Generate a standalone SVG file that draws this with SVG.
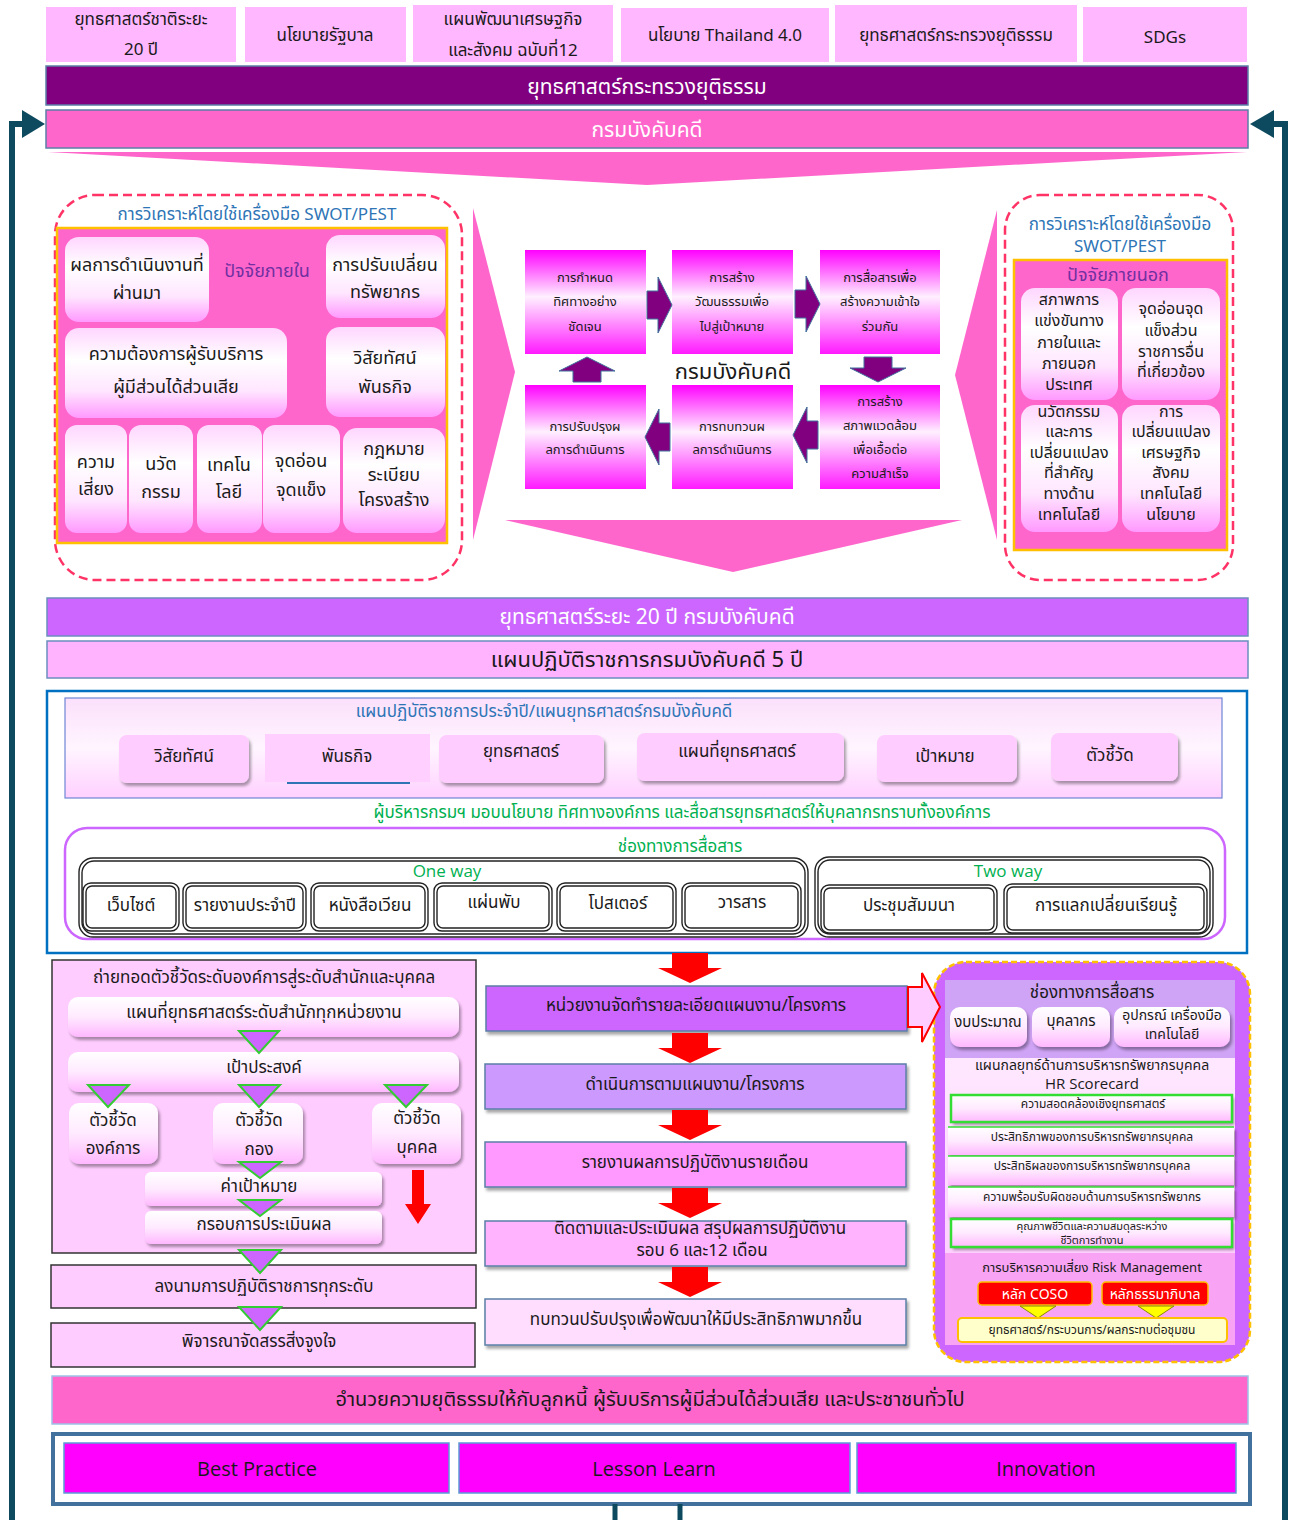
<svg xmlns="http://www.w3.org/2000/svg" width="1296" height="1520" viewBox="0 0 1296 1520">
<defs>
<style>
text{font-family:Tahoma,"Noto Sans Thai","Noto Sans","DejaVu Sans",sans-serif;fill:#1a1a1a;text-anchor:middle;dominant-baseline:central}
.top{fill:#ffb7ff}
.wt{fill:#ffffff}
.blue{fill:#2e75b6}
.grn{fill:#00b050}
.pur{fill:#7030a0}
.soft{fill:url(#gSoft)}
.mag{fill:url(#gMag)}
.dash{fill:#fff;stroke:#ff3366;stroke-width:2.5;stroke-dasharray:9 5}
.panel{fill:#ff66cc;stroke:#ffc000;stroke-width:2.5}
.parr{fill:#800080;stroke:#41719c;stroke-width:1}
.btn{fill:#ffccff;filter:url(#sh)}
.dbl{fill:#fff;stroke:#222;stroke-width:1.4}
.dbi{fill:none;stroke:#222;stroke-width:1.4}
.pb{fill:url(#gPB);filter:url(#sh)}
.tri{fill:#cc66ff;stroke:#33cc33;stroke-width:2}
.rar{fill:#ff0000}
.hr{fill:url(#gPB);filter:url(#sh)}
.gbox{fill:none;stroke:#33dd33;stroke-width:2.5}
.lat{font-family:"Open Sans","Noto Sans",sans-serif}
</style>
<linearGradient id="gSoft" x1="0" y1="0" x2="0" y2="1">
<stop offset="0" stop-color="#ffd6ff"/><stop offset="0.35" stop-color="#ffffff"/><stop offset="0.7" stop-color="#ffe6ff"/><stop offset="1" stop-color="#ff99ff"/>
</linearGradient>
<linearGradient id="gMag" x1="0" y1="0" x2="0" y2="1">
<stop offset="0" stop-color="#ff00ff"/><stop offset="0.45" stop-color="#fff0ff"/><stop offset="1" stop-color="#ff1aff"/>
</linearGradient>
<linearGradient id="gPB" x1="0" y1="0" x2="0" y2="1">
<stop offset="0" stop-color="#ffffff"/><stop offset="0.5" stop-color="#ffeaff"/><stop offset="1" stop-color="#ffb8ff"/>
</linearGradient>
<linearGradient id="gInner" x1="0" y1="0" x2="0" y2="1">
<stop offset="0" stop-color="#fbe0fb"/><stop offset="0.5" stop-color="#fff5ff"/><stop offset="1" stop-color="#ffd0ff"/>
</linearGradient>
<linearGradient id="gHR" x1="0" y1="0" x2="0" y2="1">
<stop offset="0" stop-color="#ffe8ff"/><stop offset="1" stop-color="#ffd0ff"/>
</linearGradient>
<filter id="sh" x="-10%" y="-10%" width="130%" height="140%">
<feDropShadow dx="2" dy="3" stdDeviation="1.8" flood-color="#000" flood-opacity="0.35"/>
</filter>
<path id="parrow" d="M0,-14 H11 V-28 L25,0 L11,28 V14 H0 Z"/>
<path id="rdown" d="M-18,0 H18 V15 H32 L0,30 L-32,15 H-18 Z"/>
</defs>

<rect width="1296" height="1520" fill="#ffffff"/>

<!-- top policy sources -->
<g id="src1"><rect class="top" x="46" y="7" width="190" height="55"/><text x="141" y="20" font-size="17">ยุทธศาสตร์ชาติระยะ</text><text x="141" y="50" font-size="17">20 ปี</text></g>
<g id="src2"><rect class="top" x="245" y="7" width="161" height="55"/><text x="325" y="36" font-size="17">นโยบายรัฐบาล</text></g>
<g id="src3"><rect class="top" x="413" y="5" width="200" height="57"/><text x="513" y="20" font-size="17">แผนพัฒนาเศรษฐกิจ</text><text x="513" y="51" font-size="17">และสังคม ฉบับที่12</text></g>
<g id="src4"><rect class="top" x="621" y="8" width="208" height="54"/><text x="725" y="36" font-size="17">นโยบาย Thailand 4.0</text></g>
<g id="src5"><rect class="top" x="835" y="5" width="242" height="57"/><text x="956" y="36" font-size="17">ยุทธศาสตร์กระทรวงยุติธรรม</text></g>
<g id="src6"><rect class="top" x="1083" y="7" width="164" height="55"/><text x="1165" y="38" font-size="17">SDGs</text></g>

<g id="moj"><rect x="46" y="66" width="1202" height="39" fill="#800080" stroke="#5b7fa6" stroke-width="1.5"/><text class="wt" x="647" y="87" font-size="21">ยุทธศาสตร์กระทรวงยุติธรรม</text></g>
<g id="led"><rect x="46" y="110" width="1202" height="38" fill="#ff66cc" stroke="#5b7fa6" stroke-width="1.5"/><text class="wt" x="647" y="130" font-size="21">กรมบังคับคดี</text></g>
<polygon points="48,152 1247,152 647,185" fill="#ff66cc"/>

<!-- left SWOT -->
<g id="swot-in">
<rect class="dash" x="55" y="195" width="407" height="385" rx="40"/>
<text class="blue" x="257" y="215" font-size="17">การวิเคราะห์โดยใช้เครื่องมือ SWOT/PEST</text>
<rect class="panel" x="57" y="228" width="390" height="315"/>
<text class="pur" x="267" y="271" font-size="18">ปัจจัยภายใน</text>
<rect class="soft" x="65" y="237" width="144" height="85" rx="14"/>
<text x="137" y="265" font-size="18">ผลการดำเนินงานที่</text><text x="137" y="293" font-size="18">ผ่านมา</text>
<rect class="soft" x="326" y="235" width="119" height="83" rx="14"/>
<text x="385" y="265" font-size="18">การปรับเปลี่ยน</text><text x="385" y="292" font-size="18">ทรัพยากร</text>
<rect class="soft" x="65" y="328" width="222" height="90" rx="14"/>
<text x="176" y="354" font-size="18">ความต้องการผู้รับบริการ</text><text x="176" y="387" font-size="18">ผู้มีส่วนได้ส่วนเสีย</text>
<rect class="soft" x="326" y="327" width="119" height="90" rx="14"/>
<text x="385" y="358" font-size="18">วิสัยทัศน์</text><text x="385" y="387" font-size="18">พันธกิจ</text>
<rect class="soft" x="65" y="425" width="62" height="108" rx="12"/>
<text x="96" y="462" font-size="18">ความ</text><text x="96" y="489" font-size="18">เสี่ยง</text>
<rect class="soft" x="129" y="425" width="64" height="108" rx="12"/>
<text x="161" y="464" font-size="18">นวัต</text><text x="161" y="492" font-size="18">กรรม</text>
<rect class="soft" x="197" y="425" width="65" height="108" rx="12"/>
<text x="229" y="465" font-size="18">เทคโน</text><text x="229" y="492" font-size="18">โลยี</text>
<rect class="soft" x="263" y="425" width="77" height="108" rx="12"/>
<text x="301" y="461" font-size="18">จุดอ่อน</text><text x="301" y="490" font-size="18">จุดแข็ง</text>
<rect class="soft" x="343" y="428" width="102" height="105" rx="14"/>
<text x="394" y="449" font-size="18">กฎหมาย</text><text x="394" y="475" font-size="18">ระเบียบ</text><text x="394" y="500" font-size="18">โครงสร้าง</text>
</g>

<!-- center cycle -->
<polygon points="473,208 515,372 473,540" fill="#ff66cc"/>
<polygon points="997,210 955,375 997,540" fill="#ff66cc"/>
<polygon points="505,520 962,520 733,572" fill="#ff66cc"/>
<g id="cyc1"><rect class="mag" x="525" y="250" width="121" height="104"/><text x="585" y="278" font-size="13">การกำหนด</text><text x="585" y="302" font-size="13">ทิศทางอย่าง</text><text x="585" y="327" font-size="13">ชัดเจน</text></g>
<g id="cyc2"><rect class="mag" x="672" y="250" width="121" height="104"/><text x="732" y="278" font-size="13">การสร้าง</text><text x="732" y="302" font-size="13">วัฒนธรรมเพื่อ</text><text x="732" y="327" font-size="13">ไปสู่เป้าหมาย</text></g>
<g id="cyc3"><rect class="mag" x="820" y="250" width="120" height="104"/><text x="880" y="278" font-size="13">การสื่อสารเพื่อ</text><text x="880" y="302" font-size="13">สร้างความเข้าใจ</text><text x="880" y="327" font-size="13">ร่วมกัน</text></g>
<g id="cyc4"><rect class="mag" x="820" y="385" width="120" height="104"/><text x="880" y="402" font-size="13">การสร้าง</text><text x="880" y="426" font-size="13">สภาพแวดล้อม</text><text x="880" y="450" font-size="13">เพื่อเอื้อต่อ</text><text x="880" y="474" font-size="13">ความสำเร็จ</text></g>
<g id="cyc5"><rect class="mag" x="672" y="385" width="121" height="104"/><text x="732" y="427" font-size="13">การทบทวนผ</text><text x="732" y="450" font-size="13">ลการดำเนินการ</text></g>
<g id="cyc6"><rect class="mag" x="525" y="385" width="121" height="104"/><text x="585" y="427" font-size="13">การปรับปรุงผ</text><text x="585" y="450" font-size="13">ลการดำเนินการ</text></g>
<text x="733" y="372" font-size="22">กรมบังคับคดี</text>

<!-- right SWOT -->
<g id="swot-out">
<rect class="dash" x="1005" y="195" width="228" height="385" rx="35"/>
<text class="blue" x="1120" y="225" font-size="17">การวิเคราะห์โดยใช้เครื่องมือ</text>
<text class="blue" x="1120" y="247" font-size="17">SWOT/PEST</text>
<rect class="panel" x="1014" y="260" width="213" height="290"/>
<text class="pur" x="1118" y="275" font-size="18">ปัจจัยภายนอก</text>
<rect class="soft" x="1021" y="288" width="97" height="112" rx="14"/>
<text x="1069" y="300" font-size="16">สภาพการ</text><text x="1069" y="321" font-size="16">แข่งขันทาง</text><text x="1069" y="343" font-size="16">ภายในและ</text><text x="1069" y="364" font-size="16">ภายนอก</text><text x="1069" y="385" font-size="16">ประเทศ</text>
<rect class="soft" x="1122" y="288" width="98" height="112" rx="14"/>
<text x="1171" y="309" font-size="16">จุดอ่อนจุด</text><text x="1171" y="331" font-size="16">แข็งส่วน</text><text x="1171" y="352" font-size="16">ราชการอื่น</text><text x="1171" y="372" font-size="16">ที่เกี่ยวข้อง</text>
<rect class="soft" x="1021" y="405" width="97" height="127" rx="14"/>
<text x="1069" y="412" font-size="16">นวัตกรรม</text><text x="1069" y="432" font-size="16">และการ</text><text x="1069" y="453" font-size="16">เปลี่ยนแปลง</text><text x="1069" y="473" font-size="16">ที่สำคัญ</text><text x="1069" y="494" font-size="16">ทางด้าน</text><text x="1069" y="515" font-size="16">เทคโนโลยี</text>
<rect class="soft" x="1122" y="405" width="98" height="127" rx="14"/>
<text x="1171" y="412" font-size="16">การ</text><text x="1171" y="432" font-size="16">เปลี่ยนแปลง</text><text x="1171" y="453" font-size="16">เศรษฐกิจ</text><text x="1171" y="473" font-size="16">สังคม</text><text x="1171" y="494" font-size="16">เทคโนโลยี</text><text x="1171" y="515" font-size="16">นโยบาย</text>
</g>

<!-- 20 year / 5 year -->
<g id="plan20"><rect x="47" y="598" width="1201" height="38" fill="#cc66ff" stroke="#6c8ebf" stroke-width="1.5"/><text class="wt" x="647" y="617" font-size="21">ยุทธศาสตร์ระยะ 20 ปี กรมบังคับคดี</text></g>
<g id="plan5"><rect x="47" y="641" width="1201" height="37" fill="#ffb3ff" stroke="#6c8ebf" stroke-width="1.5"/><text x="647" y="660" font-size="22">แผนปฏิบัติราชการกรมบังคับคดี 5 ปี</text></g>

<g id="annual">
<rect x="47" y="691" width="1200" height="262" fill="#fff" stroke="#0070c0" stroke-width="2.5"/>
<rect x="65" y="698" width="1157" height="100" fill="url(#gInner)" stroke="#6f86d6" stroke-width="1.2"/>
<text class="blue" x="544" y="712" font-size="17">แผนปฏิบัติราชการประจำปี/แผนยุทธศาสตร์กรมบังคับคดี</text>
<rect class="btn" x="119" y="735" width="130" height="48" rx="8"/><text x="184" y="757" font-size="17">วิสัยทัศน์</text>
<rect x="265" y="734" width="165" height="48" fill="#ffd0ff"/><line x1="287" y1="783" x2="410" y2="783" stroke="#2e75b6" stroke-width="2"/><text x="347" y="757" font-size="17">พันธกิจ</text>
<rect class="btn" x="439" y="735" width="165" height="48" rx="8"/><text x="521" y="752" font-size="17">ยุทธศาสตร์</text>
<rect class="btn" x="637" y="733" width="207" height="48" rx="8"/><text x="737" y="752" font-size="17">แผนที่ยุทธศาสตร์</text>
<rect class="btn" x="877" y="735" width="140" height="47" rx="8"/><text x="945" y="757" font-size="17">เป้าหมาย</text>
<rect class="btn" x="1051" y="733" width="127" height="48" rx="8"/><text x="1110" y="756" font-size="17">ตัวชี้วัด</text>
<text class="grn" x="682" y="813" font-size="17">ผู้บริหารกรมฯ มอบนโยบาย ทิศทางองค์การ และสื่อสารยุทธศาสตร์ให้บุคลากรทราบทั้งองค์การ</text>
<rect x="65" y="828" width="1160" height="111" rx="22" fill="#fff" stroke="#cc66ff" stroke-width="2.5"/>
<text class="grn" x="680" y="847" font-size="17">ช่องทางการสื่อสาร</text>
<rect class="dbl" x="79" y="858" width="729" height="79" rx="14"/><rect class="dbi" x="82" y="861" width="723" height="73" rx="12"/>
<text class="grn lat" x="447" y="870" font-size="17">One way</text>
<rect class="dbl" x="83" y="883" width="96" height="48" rx="8"/><rect class="dbi" x="86" y="886" width="90" height="42" rx="6"/><text x="131" y="906" font-size="17">เว็บไซต์</text>
<rect class="dbl" x="183" y="883" width="123" height="48" rx="8"/><rect class="dbi" x="186" y="886" width="117" height="42" rx="6"/><text x="245" y="906" font-size="17">รายงานประจำปี</text>
<rect class="dbl" x="311" y="883" width="117" height="48" rx="8"/><rect class="dbi" x="314" y="886" width="111" height="42" rx="6"/><text x="370" y="906" font-size="17">หนังสือเวียน</text>
<rect class="dbl" x="434" y="883" width="118" height="48" rx="8"/><rect class="dbi" x="437" y="886" width="112" height="42" rx="6"/><text x="494" y="903" font-size="17">แผ่นพับ</text>
<rect class="dbl" x="557" y="883" width="119" height="48" rx="8"/><rect class="dbi" x="560" y="886" width="113" height="42" rx="6"/><text x="618" y="904" font-size="17">โปสเตอร์</text>
<rect class="dbl" x="682" y="883" width="119" height="48" rx="8"/><rect class="dbi" x="685" y="886" width="113" height="42" rx="6"/><text x="742" y="903" font-size="17">วารสาร</text>
<rect class="dbl" x="815" y="857" width="398" height="80" rx="14"/><rect class="dbi" x="818" y="860" width="392" height="74" rx="12"/>
<text class="grn lat" x="1008" y="870" font-size="17">Two way</text>
<rect class="dbl" x="821" y="885" width="176" height="48" rx="8"/><rect class="dbi" x="824" y="888" width="170" height="42" rx="6"/><text x="909" y="906" font-size="17">ประชุมสัมมนา</text>
<rect class="dbl" x="1004" y="884" width="203" height="49" rx="8"/><rect class="dbi" x="1007" y="887" width="197" height="43" rx="6"/><text x="1106" y="906" font-size="17">การแลกเปลี่ยนเรียนรู้</text>
</g>

<!-- bottom left cascade -->
<g id="cascade">
<rect x="52" y="960" width="424" height="293" fill="#ffccff" stroke="#333" stroke-width="1.5"/>
<text x="264" y="978" font-size="17">ถ่ายทอดตัวชี้วัดระดับองค์การสู่ระดับสำนักและบุคคล</text>
<rect class="pb" x="68" y="997" width="391" height="40" rx="10"/><text x="264" y="1013" font-size="17">แผนที่ยุทธศาสตร์ระดับสำนักทุกหน่วยงาน</text>
<rect class="pb" x="68" y="1052" width="391" height="40" rx="10"/><text x="264" y="1068" font-size="17">เป้าประสงค์</text>
<rect class="pb" x="69" y="1103" width="89" height="61" rx="10"/><text x="113" y="1121" font-size="17">ตัวชี้วัด</text><text x="113" y="1149" font-size="17">องค์การ</text>
<rect class="pb" x="213" y="1103" width="90" height="61" rx="10"/><text x="259" y="1121" font-size="17">ตัวชี้วัด</text><text x="259" y="1150" font-size="17">กอง</text>
<rect class="pb" x="372" y="1103" width="89" height="61" rx="10"/><text x="417" y="1119" font-size="17">ตัวชี้วัด</text><text x="417" y="1148" font-size="17">บุคคล</text>
<rect class="pb" x="145" y="1172" width="237" height="34" rx="6"/><text x="259" y="1187" font-size="17">ค่าเป้าหมาย</text>
<rect class="pb" x="145" y="1211" width="237" height="33" rx="6"/><text x="264" y="1225" font-size="17">กรอบการประเมินผล</text>
<path class="rar" d="M412,1170 H424 V1204 H431 L418,1224 L405,1204 H412 Z"/>
</g>
<g id="sign"><rect x="51" y="1265" width="425" height="43" fill="#ffccff" stroke="#333" stroke-width="1.5"/><text x="264" y="1287" font-size="17">ลงนามการปฏิบัติราชการทุกระดับ</text></g>
<g id="incent"><rect x="51" y="1323" width="424" height="44" fill="#ffccff" stroke="#333" stroke-width="1.5"/><text x="259" y="1342" font-size="17">พิจารณาจัดสรรสิ่งจูงใจ</text></g>

<!-- bottom center process -->
<g id="p1"><rect x="486" y="986" width="421" height="45" fill="#cc66ff" stroke="#5b7fa6" stroke-width="1.5" filter="url(#sh)"/><text x="696" y="1006" font-size="17">หน่วยงานจัดทำรายละเอียดแผนงาน/โครงการ</text></g>
<g id="p2"><rect x="485" y="1064" width="421" height="45" fill="#cc99ff" stroke="#5b7fa6" stroke-width="1.5" filter="url(#sh)"/><text x="695" y="1085" font-size="17">ดำเนินการตามแผนงาน/โครงการ</text></g>
<g id="p3"><rect x="485" y="1142" width="421" height="45" fill="#ff99ff" stroke="#5b7fa6" stroke-width="1.5" filter="url(#sh)"/><text x="695" y="1163" font-size="17">รายงานผลการปฏิบัติงานรายเดือน</text></g>
<g id="p4"><rect x="485" y="1221" width="421" height="45" fill="#ffb3ff" stroke="#5b7fa6" stroke-width="1.5" filter="url(#sh)"/><text x="700" y="1229" font-size="17">ติดตามและประเมินผล สรุปผลการปฏิบัติงาน</text><text x="702" y="1251" font-size="17">รอบ 6 และ12 เดือน</text></g>
<g id="p5"><rect x="485" y="1299" width="421" height="46" fill="#ffddff" stroke="#5b7fa6" stroke-width="1.5" filter="url(#sh)"/><text x="696" y="1320" font-size="17">ทบทวนปรับปรุงเพื่อพัฒนาให้มีประสิทธิภาพมากขึ้น</text></g>

<!-- bottom right resources -->
<g id="resources">
<rect x="934" y="962" width="316" height="400" rx="32" fill="#cc66ff" stroke="#ffc000" stroke-width="2.5" stroke-dasharray="6 3"/>
<rect x="945" y="980" width="290" height="78" fill="#cfa3f5"/>
<text x="1092" y="993" font-size="17">ช่องทางการสื่อสาร</text>
<rect class="pb" x="950" y="1007" width="77" height="40" rx="10"/><text x="988" y="1022" font-size="15">งบประมาณ</text>
<rect class="pb" x="1032" y="1007" width="78" height="40" rx="10"/><text x="1071" y="1021" font-size="15">บุคลากร</text>
<rect class="pb" x="1114" y="1007" width="116" height="40" rx="10"/><text x="1172" y="1015" font-size="14">อุปกรณ์ เครื่องมือ</text><text x="1172" y="1034" font-size="14">เทคโนโลยี</text>
<rect x="945" y="1058" width="290" height="195" fill="url(#gHR)"/>
<text x="1092" y="1065" font-size="14">แผนกลยุทธ์ด้านการบริหารทรัพยากรบุคคล</text>
<text class="lat" x="1092" y="1083" font-size="15">HR Scorecard</text>
<rect class="hr" x="951" y="1095" width="281" height="27"/><rect class="gbox" x="951" y="1095" width="281" height="27"/><text x="1093" y="1104" font-size="12">ความสอดคล้องเชิงยุทธศาสตร์</text>
<rect class="hr" x="948" y="1127" width="286" height="28"/><line x1="948" y1="1127" x2="1234" y2="1127" stroke="#33dd33" stroke-width="1.5"/><text x="1092" y="1137" font-size="12">ประสิทธิภาพของการบริหารทรัพยากรบุคคล</text>
<rect class="hr" x="948" y="1156" width="286" height="29"/><line x1="948" y1="1156" x2="1234" y2="1156" stroke="#33dd33" stroke-width="1.5"/><text x="1092" y="1166" font-size="12">ประสิทธิผลของการบริหารทรัพยากรบุคคล</text>
<rect class="hr" x="948" y="1187" width="286" height="30"/><line x1="948" y1="1187" x2="1234" y2="1187" stroke="#33dd33" stroke-width="1.5"/><text x="1092" y="1197" font-size="12">ความพร้อมรับผิดชอบด้านการบริหารทรัพยากร</text>
<rect class="hr" x="951" y="1219" width="281" height="28"/><rect class="gbox" x="951" y="1219" width="281" height="28"/><text x="1092" y="1226" font-size="11">คุณภาพชีวิตและความสมดุลระหว่าง</text><text x="1092" y="1240" font-size="11">ชีวิตการทำงาน</text>
<rect x="945" y="1253" width="290" height="92" fill="#f8a3f3"/>
<text x="1092" y="1268" font-size="13">การบริหารความเสี่ยง Risk Management</text>
<rect x="978" y="1282" width="114" height="23" rx="4" fill="#ff0000" stroke="#ffc000" stroke-width="1.5"/><text class="wt" x="1035" y="1294" font-size="14">หลัก COSO</text>
<rect x="1102" y="1282" width="106" height="23" rx="4" fill="#ff0000" stroke="#ffc000" stroke-width="1.5"/><text class="wt" x="1155" y="1294" font-size="14">หลักธรรมาภิบาล</text>
<polygon points="1020,1306 1056,1306 1038,1318" fill="#ffff00" stroke="#8a8a00" stroke-width="1"/>
<polygon points="1138,1306 1174,1306 1156,1318" fill="#ffff00" stroke="#8a8a00" stroke-width="1"/>
<rect x="958" y="1318" width="269" height="24" rx="4" fill="#ffffcc" stroke="#ffc000" stroke-width="2"/>
<text x="1092" y="1330" font-size="12">ยุทธศาสตร์/กระบวนการ/ผลกระทบต่อชุมชน</text>
</g>

<!-- bottom outcome -->
<g id="outcome"><rect x="52" y="1376" width="1196" height="48" fill="#ff66cc" stroke="#9dc3e6" stroke-width="1.5"/><text x="650" y="1400" font-size="20">อำนวยความยุติธรรมให้กับลูกหนี้ ผู้รับบริการผู้มีส่วนได้ส่วนเสีย และประชาชนทั่วไป</text></g>
<g id="km">
<rect x="53" y="1434" width="1197" height="70" fill="#fff" stroke="#41719c" stroke-width="4"/>
<rect x="64" y="1443" width="385" height="50" fill="#ff00ff" stroke="#5b9bd5" stroke-width="1.5"/><text class="lat" x="257" y="1468" font-size="20">Best Practice</text>
<rect x="459" y="1443" width="391" height="50" fill="#ff00ff" stroke="#5b9bd5" stroke-width="1.5"/><text class="lat" x="654" y="1468" font-size="20">Lesson Learn</text>
<rect x="857" y="1443" width="379" height="50" fill="#ff00ff" stroke="#5b9bd5" stroke-width="1.5"/><text class="lat" x="1046" y="1468" font-size="20">Innovation</text>
</g>

<!-- connectors -->
<g id="connectors">
<path d="M12,1520 V124 H24" fill="none" stroke="#0e4a5f" stroke-width="6"/>
<polygon points="22,110 45,124 22,138" fill="#0e4a5f"/>
<path d="M1285,1520 V124 H1272" fill="none" stroke="#0e4a5f" stroke-width="6"/>
<polygon points="1274,110 1250,124 1274,138" fill="#0e4a5f"/>
<line x1="615" y1="1504" x2="615" y2="1520" stroke="#0e4a5f" stroke-width="5"/>
<line x1="680" y1="1504" x2="680" y2="1520" stroke="#0e4a5f" stroke-width="5"/>
<use href="#parrow" class="parr" transform="translate(647,305)"/>
<use href="#parrow" class="parr" transform="translate(795,304)"/>
<use href="#parrow" class="parr" transform="translate(878,357) rotate(90)"/>
<use href="#parrow" class="parr" transform="translate(818,435) rotate(180)"/>
<use href="#parrow" class="parr" transform="translate(670,437) rotate(180)"/>
<use href="#parrow" class="parr" transform="translate(587,382) rotate(-90)"/>
<use href="#rdown" class="rar" transform="translate(690,953)"/>
<use href="#rdown" class="rar" transform="translate(690,1033)"/>
<use href="#rdown" class="rar" transform="translate(690,1110)"/>
<use href="#rdown" class="rar" transform="translate(690,1188)"/>
<use href="#rdown" class="rar" transform="translate(690,1267)"/>
<path d="M908,987 H922 V973 L940,1007 L922,1042 V1027 H908 Z" fill="#ffccff" stroke="#ff0000" stroke-width="2"/>
<polygon class="tri" points="239,1031 279,1031 259,1053"/>
<polygon class="tri" points="88,1085 129,1085 108,1107"/>
<polygon class="tri" points="239,1085 280,1085 259,1107"/>
<polygon class="tri" points="385,1085 427,1085 406,1107"/>
<polygon class="tri" points="239,1162 281,1162 260,1178"/>
<polygon class="tri" points="239,1200 281,1200 260,1216"/>
<polygon class="tri" points="239,1250 281,1250 260,1273"/>
<polygon class="tri" points="239,1307 281,1307 260,1330"/>
</g>
</svg>
